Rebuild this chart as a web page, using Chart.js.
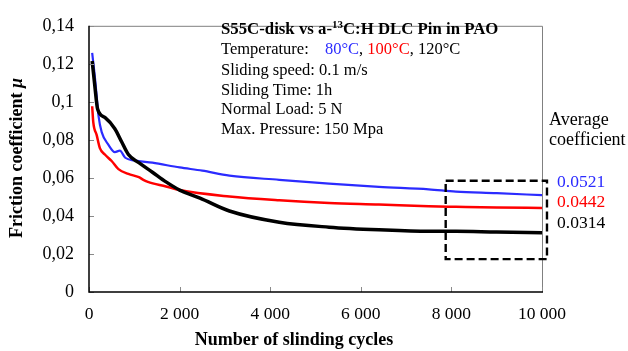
<!DOCTYPE html>
<html>
<head>
<meta charset="utf-8">
<script src="https://cdn.jsdelivr.net/npm/chart.js@4"></script>
<style>
  html, body { margin: 0; padding: 0; background: #fff; }
  #wrap { width: 628px; height: 351px; position: relative; }
</style>
</head>
<body>
<div id="wrap"><canvas id="frictionChart"></canvas></div>
<script>
// values
const blueCycles = [70, 130, 170, 210, 280, 430, 570, 680, 800, 1000, 1400, 2000, 2500, 3100, 4200, 5300, 6400, 7500, 8100, 9000, 10000];
const blueMu = [0.1257, 0.113, 0.1028, 0.0926, 0.0841, 0.0774, 0.0736, 0.0743, 0.0706, 0.0692, 0.068, 0.0655, 0.0638, 0.0612, 0.059, 0.057, 0.0553, 0.054, 0.0528, 0.052, 0.0509];

const redCycles = [70, 95, 170, 240, 350, 500, 650, 870, 1100, 1200, 1300, 1700, 2000, 3100, 4200, 5300, 6400, 7500, 8100, 9000, 10000];
const redMu = [0.0977, 0.0892, 0.0825, 0.0757, 0.0723, 0.0689, 0.0646, 0.0621, 0.0604, 0.059, 0.0579, 0.0555, 0.0536, 0.0502, 0.0482, 0.0468, 0.046, 0.0451, 0.0448, 0.0444, 0.0442];

const blackCycles = [70, 130, 190, 350, 570, 720, 870, 1100, 1400, 1700, 2000, 2450, 3100, 4200, 5300, 6400, 7500, 8100, 9000, 10000];
const blackMu = [0.1215, 0.108, 0.0962, 0.0918, 0.0859, 0.079, 0.0723, 0.068, 0.063, 0.0579, 0.0536, 0.0494, 0.0426, 0.0367, 0.0341, 0.0327, 0.0319, 0.0319, 0.0315, 0.0312];

const averageLabels = ["0.0521", "0.0442", "0.0314"];
const averageColors = ["#2b2bff", "#ff0000", "#000000"];
const boxCycles = [7874, 10110];
const boxMu = [0.0173, 0.0585];

const FONT = "'Liberation Serif', 'Times New Roman', serif";

const toPoints = (xs, ys) => xs.map((x, i) => ({ x: x, y: ys[i] }));

// ticks, frame, dashed box and all the text annotations
const decorations = {
    id: "decorations",
    afterDatasetsDraw(chart) {
        const ctx = chart.ctx;
        const area = chart.chartArea;
        const xs = chart.scales.x;
        const ys = chart.scales.y;
        ctx.save();

        // grey frame top/right
        ctx.strokeStyle = "#808080";
        ctx.lineWidth = 1;
        ctx.beginPath();
        ctx.moveTo(area.left, area.top + 0.5);
        ctx.lineTo(area.right + 0.5, area.top + 0.5);
        ctx.lineTo(area.right + 0.5, area.bottom);
        ctx.stroke();

        // inner ticks
        ctx.strokeStyle = "#8a8a8a";
        ctx.beginPath();
        ys.ticks.forEach((t) => {
            const py = Math.round(ys.getPixelForValue(t.value)) + 0.5;
            ctx.moveTo(area.left, py);
            ctx.lineTo(area.left + 5, py);
        });
        xs.ticks.forEach((t) => {
            const px = Math.round(xs.getPixelForValue(t.value)) + 0.5;
            ctx.moveTo(px, area.bottom);
            ctx.lineTo(px, area.bottom - 5);
        });
        ctx.stroke();

        // black axes
        ctx.strokeStyle = "#000";
        ctx.lineWidth = 1.5;
        ctx.beginPath();
        ctx.moveTo(area.left, area.top);
        ctx.lineTo(area.left, area.bottom);
        ctx.lineTo(area.right + 1, area.bottom);
        ctx.stroke();

        // dashed box around the averaging window
        const bx0 = xs.getPixelForValue(boxCycles[0]);
        const bx1 = xs.getPixelForValue(boxCycles[1]);
        const by0 = ys.getPixelForValue(boxMu[1]);
        const by1 = ys.getPixelForValue(boxMu[0]);
        ctx.setLineDash([8, 4]);
        ctx.lineWidth = 2.4;
        ctx.strokeRect(bx0, by0, bx1 - bx0, by1 - by0);
        ctx.setLineDash([]);

        // info block
        ctx.textBaseline = "middle";
        ctx.textAlign = "left";
        let x = 221;
        ctx.fillStyle = "#000";
        ctx.font = "bold 16.8px " + FONT;
        let s = "S55C-disk vs a-";
        ctx.fillText(s, x, 30);
        x += ctx.measureText(s).width;
        ctx.font = "bold 11px " + FONT;
        ctx.fillText("13", x, 25);
        x += ctx.measureText("13").width;
        ctx.font = "bold 16.8px " + FONT;
        ctx.fillText("C:H DLC Pin in PAO", x, 30);

        ctx.font = "16.5px " + FONT;
        ctx.fillText("Temperature:", 221, 50);
        const parts = [["80°C", "#2b2bff"], [", ", "#000"], ["100°C", "#ff0000"], [", 120°C", "#000"]];
        x = 325;
        parts.forEach((p) => {
            ctx.fillStyle = p[1];
            ctx.fillText(p[0], x, 50);
            x += ctx.measureText(p[0]).width;
        });
        ctx.fillStyle = "#000";
        const lines = ["Sliding speed: 0.1 m/s", "Sliding Time: 1h", "Normal Load: 5 N", "Max. Pressure: 150 Mpa"];
        lines.forEach((l, i) => ctx.fillText(l, 221, 71 + i * 19.5));

        // average block on the right
        ctx.font = "18px " + FONT;
        ctx.fillText("Average", 549, 120);
        ctx.fillText("coefficient", 549, 140);
        ctx.font = "17.5px " + FONT;
        averageLabels.forEach((l, i) => {
            ctx.fillStyle = averageColors[i];
            ctx.fillText(l, 557, 182 + i * 20.5);
        });

        // axis titles
        ctx.fillStyle = "#000";
        ctx.font = "bold 18px " + FONT;
        ctx.textAlign = "center";
        ctx.fillText("Number of slinding cycles", 294, 340);
        ctx.save();
        ctx.translate(17, 158);
        ctx.rotate(-Math.PI / 2);
        const w = ctx.measureText("Friction coefficient ").width;
        ctx.font = "bold italic 18px " + FONT;
        const wm = ctx.measureText("μ").width;
        ctx.textAlign = "left";
        ctx.font = "bold 18px " + FONT;
        ctx.fillText("Friction coefficient ", -(w + wm) / 2, 0);
        ctx.font = "bold italic 18px " + FONT;
        ctx.fillText("μ", -(w + wm) / 2 + w, 0);
        ctx.restore();

        ctx.restore();
    },
};

const frictionChart = new Chart(document.getElementById("frictionChart").getContext("2d"), {
    type: "line",
    data: {
        datasets: [
            {
                label: "120°C",
                data: toPoints(blackCycles, blackMu),
                borderColor: "#000000",
                borderWidth: 3.5,
            },
            {
                label: "100°C",
                data: toPoints(redCycles, redMu),
                borderColor: "#ff0000",
                borderWidth: 2.5,
            },
            {
                label: "80°C",
                data: toPoints(blueCycles, blueMu),
                borderColor: "#2b2bff",
                borderWidth: 2.2,
            },
        ],
    },
    options: {
        responsive: true,
        maintainAspectRatio: false,
        animation: false,
        elements: {
            point: { radius: 0 },
            line: { cubicInterpolationMode: "monotone", fill: false },
        },
        layout: { padding: { top: 17, right: 86, left: 0, bottom: 0 } },
        plugins: {
            legend: { display: false },
            tooltip: { enabled: false },
        },
        scales: {
            x: {
                type: "linear",
                min: 0,
                max: 10000,
                border: { display: false },
                grid: { display: false, drawTicks: false },
                ticks: {
                    stepSize: 2000,
                    padding: 12,
                    color: "#000",
                    font: { family: FONT, size: 17.5 },
                    callback: (v) => (v >= 1000 ? Math.floor(v / 1000) + " " + String(v % 1000).padStart(3, "0") : String(v)),
                },
                afterFit: (scale) => { scale.height = 59; },
            },
            y: {
                min: 0,
                max: 0.14,
                border: { display: false },
                grid: { display: false, drawTicks: false },
                ticks: {
                    stepSize: 0.02,
                    padding: 15,
                    color: "#000",
                    font: { family: FONT, size: 18 },
                    callback: (v) => String(Math.round(v * 100) / 100).replace(".", ","),
                },
                afterFit: (scale) => { scale.width = 89; },
            },
        },
    },
    plugins: [decorations],
});
</script>
</body>
</html>
